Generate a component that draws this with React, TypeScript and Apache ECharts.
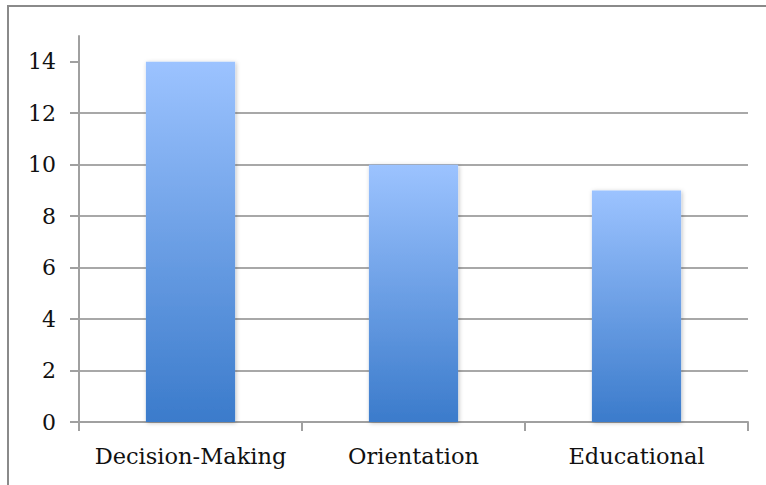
import React, { useEffect, useRef } from "react";
import * as echarts from "echarts";

const categories = ["Decision-Making", "Orientation", "Educational"];
const values = [14, 10, 9];
const yTicks = [0, 2, 4, 6, 8, 10, 12, 14];

export default function App() {
  const ref = useRef<HTMLDivElement>(null);
  useEffect(() => {
    document.body.style.margin = "0";
    const chart = echarts.init(ref.current!, null, { renderer: "svg" });
    const font = "DejaVu Serif";
    chart.setOption({
      animation: false,
      grid: { left: 79, right: 18, top: 36, bottom: 63 },
      xAxis: {
        type: "category",
        data: categories,
        axisLine: { lineStyle: { color: "#a0a0a0", width: 2 } },
        axisTick: { show: true, interval: 0, length: 9, lineStyle: { color: "#a0a0a0", width: 2 } },
        axisLabel: { interval: 0, color: "#111", fontFamily: font, fontSize: 22.5, margin: 22 },
      },
      yAxis: {
        type: "value",
        min: 0,
        max: 15,
        interval: 2,
        axisLine: { show: true, lineStyle: { color: "#a0a0a0", width: 2 } },
        axisTick: {
          show: true,
          length: 9,
          customValues: yTicks,
          lineStyle: { color: "#a0a0a0", width: 2 },
        },
        axisLabel: {
          customValues: yTicks,
          color: "#111",
          fontFamily: font,
          fontSize: 22,
          margin: 23,
        },
        splitLine: {
          show: true,
          showMinLine: false,
          showMaxLine: false,
          lineStyle: { color: "#a8a8a8", width: 2 },
        },
      },
      series: [
        {
          type: "bar",
          data: values,
          barWidth: "40%",
          itemStyle: {
            color: new echarts.graphic.LinearGradient(0, 0, 0, 1, [
              { offset: 0, color: "#9cc3ff" },
              { offset: 1, color: "#3b7bcb" },
            ]),
            shadowBlur: 4,
            shadowColor: "rgba(0,0,0,0.25)",
            shadowOffsetX: 1,
            shadowOffsetY: 1,
          },
        },
      ],
    });
    return () => chart.dispose();
  }, []);
  return (
    <div style={{ position: "relative", width: 766, height: 485, overflow: "hidden" }}>
      <div
        style={{
          position: "absolute",
          left: 7,
          top: 5,
          width: 800,
          height: 600,
          border: "2px solid #8a8a8a",
          boxSizing: "border-box",
        }}
      />
      <div ref={ref} style={{ position: "absolute", left: 0, top: 0, width: 766, height: 485 }} />
    </div>
  );
}
